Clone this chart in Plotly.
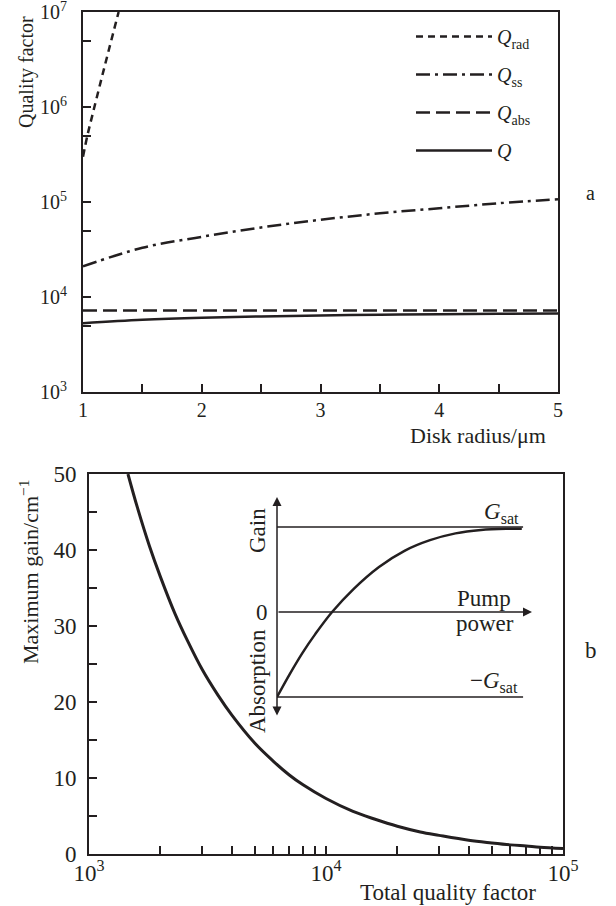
import plotly.graph_objects as go

# ---------------- data: panel a ----------------
radius_rad = [1.0, 1.04, 1.084, 1.15, 1.22, 1.30]
q_rad = [3.0e5, 5.2e5, 8.7e5, 1.86e6, 4.1e6, 1.0e7]

radius = [1.0, 1.5, 2.0, 2.5, 3.0, 3.5, 4.0, 4.5, 5.0]
q_ss = [2.1e4, 3.3e4, 4.3e4, 5.4e4, 6.5e4, 7.6e4, 8.6e4, 9.7e4, 1.07e5]
q_abs = [7.2e3, 7.2e3, 7.2e3, 7.2e3, 7.2e3, 7.2e3, 7.2e3, 7.2e3, 7.2e3]
q_tot = [5.3e3, 5.75e3, 6.05e3, 6.25e3, 6.4e3, 6.5e3, 6.6e3, 6.65e3, 6.7e3]

a_xticks = [1, 1.5, 2, 2.5, 3, 3.5, 4, 4.5, 5]
a_xlabels = ["1", "", "2", "", "3", "", "4", "", "5"]
a_yticks = [1e3, 5e3, 1e4, 5e4, 1e5, 5e5, 1e6, 5e6, 1e7]
a_ylabels = ["10<sup>3</sup>", "", "10<sup>4</sup>", "", "10<sup>5</sup>", "",
             "10<sup>6</sup>", "", "10<sup>7</sup>"]

# ---------------- data: panel b ----------------
total_q = [1460, 1600, 1800, 2000, 2300, 2600, 3000, 3500, 4000, 5000, 6000, 7000,
           8000, 10000, 13000, 16000, 20000, 25000, 30000, 40000, 50000, 60000,
           70000, 80000, 100000]
max_gain = [50, 45.6, 40.5, 36.5, 31.7, 28.1, 24.3, 20.9, 18.3, 14.6, 12.2, 10.4,
            9.1, 7.3, 5.6, 4.6, 3.65, 2.9, 2.45, 1.8, 1.45, 1.2, 1.05, 0.9, 0.73]

b_xticks = [m * 10 ** e for e in (3, 4) for m in range(1, 10)] + [1e5]
b_xlabels = ["10<sup>3</sup>" if v == 1e3 else "10<sup>4</sup>" if v == 1e4
             else "10<sup>5</sup>" if v == 1e5 else "" for v in b_xticks]
b_yticks = [0, 5, 10, 15, 20, 25, 30, 35, 40, 45, 50]
b_ylabels = ["0", "", "10", "", "20", "", "30", "", "40", "", "50"]

# inset (schematic gain vs pump power)
pump = [0, 0.05, 0.1, 0.15, 0.216, 0.3, 0.4, 0.5, 0.6, 0.7, 0.8, 0.9, 0.96]
gain = [-1, -0.73, -0.48, -0.26, 0, 0.27, 0.53, 0.72, 0.845, 0.925, 0.965, 0.979, 0.98]
gsat_x = [0, 0.965]
gsat_level = 1.0

W, H = 616, 906
FONT = "Liberation Serif"
INK = "#231f20"
FA = 20   # panel a text size
FB = 23   # panel b text size


def px(x):
    return x / W


def py(y):
    return 1 - y / H


fig = go.Figure()

# panel a traces
fig.add_trace(go.Scatter(x=radius_rad, y=q_rad, mode="lines", name="<i>Q</i><sub>rad</sub>",
                         line=dict(color=INK, width=2.5, dash="7px,5px", shape="spline"),
                         xaxis="x", yaxis="y", legendgroup="a1"))
fig.add_trace(go.Scatter(x=radius, y=q_ss, mode="lines", name="<i>Q</i><sub>ss</sub>",
                         line=dict(color=INK, width=2.5, dash="14px,5px,3px,5px", shape="spline"),
                         xaxis="x", yaxis="y", legendgroup="a2"))
fig.add_trace(go.Scatter(x=radius, y=q_abs, mode="lines", name="<i>Q</i><sub>abs</sub>",
                         line=dict(color=INK, width=2.5, dash="14px,6px"),
                         xaxis="x", yaxis="y", legendgroup="a3"))
fig.add_trace(go.Scatter(x=radius, y=q_tot, mode="lines", name="<i>Q</i>",
                         line=dict(color=INK, width=2.5, shape="spline"),
                         xaxis="x", yaxis="y", legendgroup="a4"))

# panel b traces
fig.add_trace(go.Scatter(x=total_q, y=max_gain, mode="lines", showlegend=False,
                         line=dict(color=INK, width=3, shape="spline"), xaxis="x2", yaxis="y2"))
fig.add_trace(go.Scatter(x=pump, y=gain, mode="lines", showlegend=False,
                         line=dict(color=INK, width=2.5, shape="spline"), xaxis="x3", yaxis="y3"))
fig.add_trace(go.Scatter(x=gsat_x, y=[gsat_level, gsat_level], mode="lines", showlegend=False,
                         line=dict(color=INK, width=1.5), xaxis="x3", yaxis="y3"))
fig.add_trace(go.Scatter(x=gsat_x, y=[-gsat_level, -gsat_level], mode="lines", showlegend=False,
                         line=dict(color=INK, width=1.5), xaxis="x3", yaxis="y3"))


def axstyle(size):
    return dict(showline=True, linewidth=2, linecolor=INK, mirror=True, ticks="inside",
                ticklen=8, tickwidth=1.5, tickcolor=INK, showgrid=False, zeroline=False,
                tickfont=dict(family=FONT, size=size, color=INK), tickmode="array",
                ticklabeloverflow="allow")


fig.update_layout(
    width=W, height=H, margin=dict(l=0, r=0, t=0, b=0, autoexpand=False),
    autosize=False,
    paper_bgcolor="white", plot_bgcolor="white",
    font=dict(family=FONT, size=FA, color=INK),
    xaxis=dict(domain=[px(83), px(558)], range=[1, 5], anchor="y",
               tickvals=a_xticks, ticktext=a_xlabels, ticklabelstandoff=-1, **axstyle(FA)),
    yaxis=dict(domain=[py(392), py(12)], type="log", range=[3, 7], anchor="x",
               tickvals=a_yticks, ticktext=a_ylabels, ticklabelstandoff=10, **axstyle(FA)),
    xaxis2=dict(domain=[px(89), px(563)], type="log", range=[3, 5], anchor="y2",
                tickvals=b_xticks, ticktext=b_xlabels, ticklabelstandoff=-3, **axstyle(FB)),
    yaxis2=dict(domain=[py(854), py(474)], range=[0, 50], anchor="x2",
                tickvals=b_yticks, ticktext=b_ylabels, ticklabelstandoff=6, **axstyle(FB)),
    xaxis3=dict(domain=[px(277), px(532)], range=[0, 1], anchor="y3", visible=False),
    yaxis3=dict(domain=[py(717), py(497)], range=[-1.235, 1.353], anchor="x3", visible=False),
    legend=dict(x=px(411), y=py(17), xanchor="left", yanchor="top",
                bgcolor="rgba(0,0,0,0)", itemwidth=76, tracegroupgap=9,
                font=dict(family=FONT, size=FA, color=INK)),
    showlegend=True,
)

ann = []


def text(x, y, s, size, angle=0, xanchor="center"):
    ann.append(dict(x=px(x), y=py(y), xref="paper", yref="paper", text=s, showarrow=False,
                    textangle=angle, xanchor=xanchor, yanchor="middle",
                    font=dict(family=FONT, size=size, color=INK)))


text(27, 72, "Quality factor", FA, angle=-90)
text(548, 435, "Disk radius/μm", 22, xanchor="right")
text(590, 193, "a", FA)
text(29, 572, "Maximum gain/cm<sup>−1</sup>", 22, angle=-90)
text(538, 892, "Total quality factor", FB, xanchor="right")
text(591, 650, "b", FB)
text(257, 531, "Gain", FB, angle=-90)
text(262, 612, "0", FB)
text(257, 681, "Absorption", FB, angle=-90)
text(501, 513, "<i>G</i><sub>sat</sub>", FB)
text(494, 682, "−<i>G</i><sub>sat</sub>", FB)
text(484, 598, "Pump", FB)
text(485, 623, "power", FB)

# inset axes arrows
ann.append(dict(x=0, y=1.353, ax=0, ay=-1.235, xref="x3", yref="y3", axref="x3", ayref="y3",
                text="", showarrow=True, arrowside="end+start", arrowhead=2, arrowsize=1.2,
                arrowwidth=1.5, arrowcolor=INK))
ann.append(dict(x=1, y=0, ax=0, ay=0, xref="x3", yref="y3", axref="x3", ayref="y3",
                text="", showarrow=True, arrowhead=2, arrowsize=1.2,
                arrowwidth=1.5, arrowcolor=INK))

fig.update_layout(annotations=ann)
fig.write_html("out.html", config={"responsive": False},
               post_script="document.body.style.margin='0';document.body.style.padding='0';")
